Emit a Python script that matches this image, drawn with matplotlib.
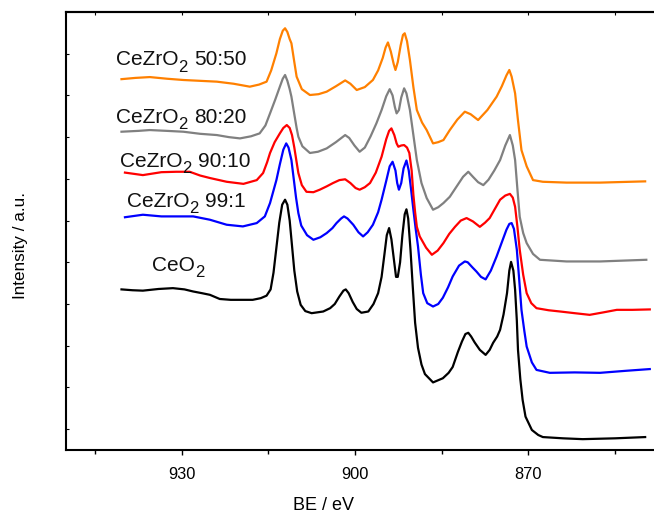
import matplotlib
matplotlib.use("Agg")
import matplotlib.pyplot as plt
import matplotlib.transforms as mtransforms
from matplotlib.ticker import MultipleLocator, NullFormatter

plt.rcParams['font.family'] = ['Liberation Sans', 'DejaVu Sans']

# ---- data (binding energy in eV, intensity in a.u. incl. vertical offsets) ----
be_ceo2 = [940.4, 938.5, 936.7, 934.0, 931.5, 929.5, 928.0, 926.5, 925.1, 923.4, 921.5, 919.5,
           917.7, 916.3, 915.3, 914.6, 914.1, 913.6, 913.1, 912.6, 912.1, 911.7, 911.3, 910.9,
           910.5, 910.0, 909.4, 908.6, 907.5, 905.5, 904.3, 903.5, 902.7, 902.0, 901.6, 901.1,
           900.4, 899.7, 898.9, 897.7, 896.8, 896.0, 895.4, 894.9, 894.5, 894.1, 893.7, 893.3,
           892.9, 892.6, 892.2, 891.8, 891.4, 891.1, 890.8, 890.4, 890.0, 889.6, 889.1, 888.5,
           887.9, 886.5, 884.8, 883.8, 883.1, 882.2, 881.5, 880.9, 880.4, 879.9, 879.3, 878.4,
           877.4, 876.7, 876.1, 875.4, 874.9, 874.3, 873.7, 873.3, 873.0, 872.6, 872.3, 872.0,
           871.8, 871.4, 871.0, 870.5, 869.4, 868.3, 867.5, 864.0, 860.6, 855.0, 849.8]
int_ceo2 = [3.85, 3.83, 3.82, 3.86, 3.88, 3.85, 3.80, 3.76, 3.72, 3.62, 3.60, 3.60,
            3.60, 3.64, 3.70, 3.85, 4.25, 4.85, 5.45, 5.88, 6.00, 5.88, 5.50, 4.90,
            4.30, 3.80, 3.48, 3.33, 3.28, 3.32, 3.40, 3.50, 3.68, 3.82, 3.85, 3.76,
            3.55, 3.38, 3.29, 3.32, 3.50, 3.76, 4.15, 4.70, 5.15, 5.32, 5.05, 4.60,
            4.15, 4.15, 4.50, 5.15, 5.65, 5.77, 5.55, 4.80, 3.90, 3.05, 2.45, 2.05,
            1.82, 1.62, 1.72, 1.85, 1.99, 2.35, 2.60, 2.78, 2.81, 2.72, 2.58, 2.40,
            2.28, 2.40, 2.57, 2.72, 2.88, 3.25, 3.76, 4.30, 4.51, 4.30, 3.84, 3.10,
            2.40, 1.70, 1.20, 0.80, 0.48, 0.36, 0.31, 0.28, 0.26, 0.28, 0.31]

be_9901 = [939.8, 936.7, 933.5, 930.8, 928.0, 925.1, 922.2, 919.4, 917.0, 915.6, 914.7, 913.6,
           913.0, 912.4, 911.9, 911.5, 911.0, 910.6, 910.2, 909.8, 909.3, 908.3, 907.2, 906.0,
           904.9, 903.9, 903.2, 902.4, 901.9, 901.3, 900.3, 899.4, 898.6, 897.8, 896.9, 896.0,
           895.4, 894.6, 894.0, 893.5, 893.0, 892.7, 892.4, 892.0, 891.6, 891.1, 890.7, 890.3,
           889.9, 889.5, 889.1, 888.6, 888.2, 887.5, 886.5, 885.6, 884.8, 883.9, 883.1, 882.0,
           881.0, 880.5, 879.7, 879.0, 878.2, 877.4, 876.5, 875.5, 874.6, 873.8, 873.3, 872.9,
           872.5, 872.0, 871.6, 871.2, 870.7, 870.3, 869.4, 868.6, 866.3, 862.0, 857.6, 853.0,
           849.0]
int_9901 = [5.58, 5.64, 5.60, 5.60, 5.60, 5.52, 5.40, 5.36, 5.44, 5.60, 5.92, 6.47,
            6.85, 7.20, 7.35, 7.25, 6.95, 6.50, 6.05, 5.68, 5.38, 5.15, 5.04, 5.10,
            5.20, 5.32, 5.44, 5.55, 5.60, 5.55, 5.40, 5.22, 5.12, 5.22, 5.40, 5.70,
            6.00, 6.45, 6.80, 6.91, 6.70, 6.40, 6.24, 6.40, 6.75, 6.94, 6.70, 6.25,
            5.76, 5.30, 4.88, 4.20, 3.76, 3.52, 3.44, 3.50, 3.65, 3.90, 4.16, 4.42,
            4.52, 4.50, 4.38, 4.28, 4.15, 4.09, 4.30, 4.64, 4.98, 5.28, 5.42, 5.44,
            5.30, 4.80, 4.10, 3.36, 2.85, 2.48, 2.10, 1.92, 1.85, 1.86, 1.85, 1.90,
            1.94]

be_9010 = [939.8, 936.7, 933.5, 930.9, 928.6, 926.8, 925.1, 922.2, 919.3, 917.0, 915.9, 915.2,
           914.7, 913.9, 913.0, 912.4, 911.8, 911.3, 910.9, 910.5, 910.1, 909.8, 909.2, 908.4,
           907.2, 906.1, 904.9, 903.8, 902.7, 901.7, 900.8, 899.9, 899.2, 898.3, 897.4, 896.4,
           895.4, 894.6, 894.1, 893.7, 893.2, 892.8, 892.5, 892.0, 891.5, 891.0, 890.6, 890.2,
           889.9, 889.6, 889.3, 888.8, 887.7, 886.7, 885.7, 884.7, 883.7, 882.7, 881.7, 880.7,
           879.6, 878.4, 877.5, 876.7, 875.8, 874.9, 874.0, 873.2, 872.7, 872.3, 871.9, 871.5,
           870.9, 870.3, 869.5, 868.6, 866.5, 864.5, 862.0, 859.4, 857.0, 854.7, 852.0, 849.0]
int_9010 = [6.65, 6.59, 6.66, 6.67, 6.67, 6.58, 6.52, 6.43, 6.38, 6.47, 6.64, 6.90,
            7.12, 7.38, 7.59, 7.72, 7.79, 7.72, 7.55, 7.25, 6.90, 6.64, 6.35, 6.19,
            6.18, 6.24, 6.32, 6.40, 6.47, 6.49, 6.40, 6.28, 6.24, 6.30, 6.40, 6.65,
            7.03, 7.45, 7.65, 7.71, 7.55, 7.35, 7.27, 7.30, 7.31, 7.25, 7.12, 6.70,
            6.12, 5.70, 5.35, 5.12, 4.85, 4.68, 4.78, 4.96, 5.18, 5.35, 5.50, 5.56,
            5.48, 5.35, 5.45, 5.56, 5.78, 6.00, 6.10, 6.14, 6.05, 5.83, 5.35, 4.80,
            4.20, 3.76, 3.52, 3.40, 3.35, 3.32, 3.28, 3.24, 3.30, 3.36, 3.36, 3.37]

be_8020 = [940.4, 937.5, 935.5, 932.5, 929.7, 926.8, 923.9, 921.8, 919.9, 918.0, 916.5, 915.5,
           914.7, 913.8, 913.0, 912.5, 912.1, 911.7, 911.3, 911.0, 910.5, 910.1, 909.8, 909.1,
           907.8, 906.4, 904.9, 903.3, 901.7, 901.0, 900.1, 899.2, 898.3, 897.3, 896.3, 895.4,
           894.6, 894.0, 893.5, 893.1, 892.8, 892.4, 892.0, 891.5, 891.1, 890.5, 889.9, 889.3,
           888.5, 887.6, 886.5, 885.6, 884.7, 883.6, 882.5, 881.3, 880.4, 879.6, 878.7, 877.8,
           876.9, 875.9, 874.9, 874.0, 873.2, 872.7, 872.3, 871.9, 871.5, 870.9, 870.3, 869.2,
           868.0, 863.4, 857.6, 849.6]
int_8020 = [7.63, 7.65, 7.67, 7.65, 7.63, 7.58, 7.55, 7.50, 7.47, 7.52, 7.59, 7.78,
            8.07, 8.40, 8.71, 8.90, 8.99, 8.85, 8.65, 8.47, 8.05, 7.72, 7.51, 7.28,
            7.12, 7.15, 7.23, 7.38, 7.55, 7.48, 7.30, 7.15, 7.25, 7.52, 7.83, 8.15,
            8.48, 8.65, 8.50, 8.22, 8.07, 8.15, 8.45, 8.67, 8.55, 8.15, 7.55, 6.95,
            6.40, 6.04, 5.76, 5.82, 5.92, 6.07, 6.30, 6.55, 6.67, 6.55, 6.42, 6.35,
            6.48, 6.70, 6.95, 7.30, 7.55, 7.30, 6.95, 6.25, 5.59, 5.20, 4.96, 4.70,
            4.56, 4.52, 4.52, 4.56]

be_5050 = [940.4, 938.0, 935.5, 932.5, 929.7, 926.8, 923.9, 921.0, 918.2, 916.6, 915.3, 914.5,
           913.6, 913.0, 912.5, 912.1, 911.7, 911.3, 911.0, 910.5, 910.1, 909.2, 907.8, 906.3,
           904.9, 903.3, 901.7, 900.8, 899.7, 898.3, 896.9, 896.0, 895.2, 894.7, 894.3, 893.8,
           893.3, 893.0, 892.6, 892.1, 891.7, 891.4, 891.0, 890.5, 889.9, 889.3, 888.4, 887.6,
           886.5, 885.6, 884.7, 883.6, 882.3, 881.0, 880.0, 878.7, 877.1, 875.5, 874.6, 873.8,
           873.3, 872.9, 872.3, 871.8, 871.2, 870.3, 869.2, 867.5, 863.4, 857.6, 849.8]
int_5050 = [8.89, 8.92, 8.94, 8.90, 8.87, 8.85, 8.83, 8.78, 8.71, 8.76, 8.83, 9.10,
            9.51, 9.85, 10.05, 10.11, 10.02, 9.85, 9.75, 9.30, 8.95, 8.65, 8.51, 8.53,
            8.59, 8.72, 8.86, 8.78, 8.63, 8.70, 8.87, 9.10, 9.40, 9.65, 9.77, 9.55,
            9.25, 9.11, 9.30, 9.70, 9.95, 9.99, 9.80, 9.35, 8.70, 8.15, 7.85, 7.67,
            7.35, 7.38, 7.43, 7.67, 7.92, 8.11, 8.05, 7.91, 8.15, 8.47, 8.72, 8.98,
            9.11, 8.95, 8.55, 7.90, 7.19, 6.80, 6.47, 6.43, 6.41, 6.41, 6.44]

# label parts: (formula head, subscript, ratio)
label_head = ['CeO', 'CeZrO', 'CeZrO', 'CeZrO', 'CeZrO']
label_sub = ['2', '2', '2', '2', '2']
label_tail = ['', '99:1', '90:10', '80:20', '50:50']
label_x = [935.2, 939.5, 940.7, 941.4, 941.4]
label_y = [4.29, 5.83, 6.79, 7.84, 9.22]
colors = ['#000000', '#0000FF', '#FF0000', '#808080', '#FF8000']
series = [(be_ceo2, int_ceo2), (be_9901, int_9901), (be_9010, int_9010),
          (be_8020, int_8020), (be_5050, int_5050)]

major_ticks = [930, 900, 870]

# ---- figure ----
DPI = 100
fig = plt.figure(figsize=(6.54, 5.18), dpi=DPI)
ax = fig.add_axes([66 / 654, 68 / 518, 606.9 / 654, 438 / 518])

for (x, y), c in zip(series, colors):
    ax.plot(x, y, color=c, lw=1.6)

ax.set_xlim(950, 845)
ax.set_ylim(0, 10.5)

# labels with Origin-style low subscript
FS, FS_SUB = 15, 12
renderer = fig.canvas.get_renderer()
for head, sub, tail, tx, ty in zip(label_head, label_sub, label_tail, label_x, label_y):
    t1 = ax.text(tx, ty, head, fontsize=FS, ha='left', va='baseline', color='#111111')
    w1 = t1.get_window_extent(renderer).width * 72 / DPI
    tr2 = mtransforms.offset_copy(ax.transData, fig=fig, x=w1 + 0.2, y=-4.6, units='points')
    t2 = ax.text(tx, ty, sub, fontsize=FS_SUB, ha='left', va='baseline', color='#111111',
                 transform=tr2)
    w2 = t2.get_window_extent(renderer).width * 72 / DPI
    if tail:
        tr3 = mtransforms.offset_copy(ax.transData, fig=fig, x=w1 + 0.2 + w2 + 4.3, y=0,
                                      units='points')
        ax.text(tx, ty, tail, fontsize=FS, ha='left', va='baseline', color='#111111',
                transform=tr3)

ax.set_xticks(major_ticks)
ax.xaxis.set_minor_locator(MultipleLocator(15))
ax.tick_params(axis='x', which='major', direction='out', length=3.8, width=1.0,
               labelsize=11.8, pad=8.5, bottom=True, top=False)
ax.tick_params(axis='x', which='minor', direction='out', length=3.0, width=1.0,
               bottom=True, top=False)
ax.set_yticks([i + 0.5 for i in range(10)])
ax.yaxis.set_major_formatter(NullFormatter())
ax.tick_params(axis='y', which='both', direction='in', length=2, width=0.8, left=True, right=False)

sec = ax.secondary_xaxis('top')
sec.set_xticks(major_ticks)
sec.xaxis.set_minor_locator(MultipleLocator(15))
sec.xaxis.set_major_formatter(NullFormatter())
sec.tick_params(axis='x', which='both', direction='in', length=2, width=0.8)
sec.spines['top'].set_linewidth(1.5)

for s in ['left', 'bottom', 'top']:
    ax.spines[s].set_linewidth(1.5)
ax.spines['right'].set_visible(False)

ax.set_xlabel('BE / eV', fontsize=13)
ax.xaxis.set_label_coords(0.425, -0.108)
ax.set_ylabel('Intensity / a.u.', fontsize=12.3)
ax.yaxis.set_label_coords(-0.062, 0.466)

fig.savefig('out.png', dpi=DPI)
